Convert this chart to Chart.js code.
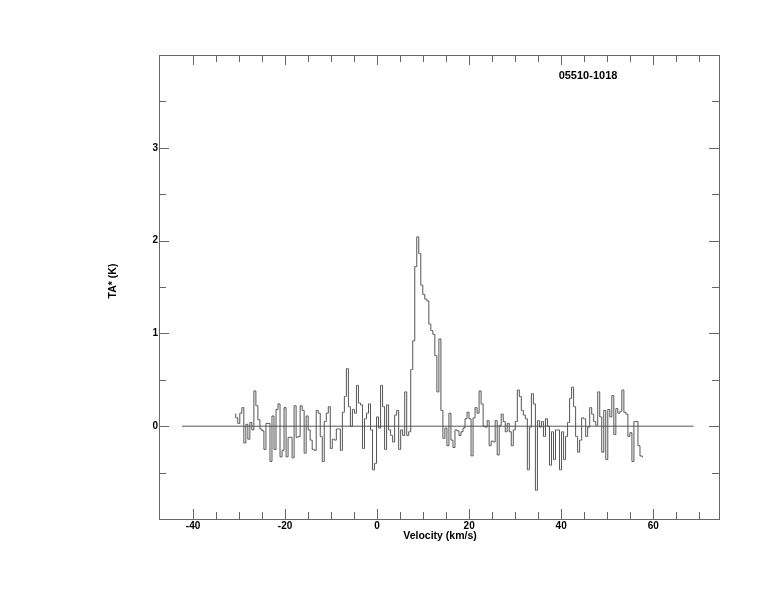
<!DOCTYPE html>
<html>
<head>
<meta charset="utf-8">
<script src="https://cdn.jsdelivr.net/npm/chart.js@4.4.1/dist/chart.umd.min.js"></script>
<style>
  html, body { margin:0; padding:0; background:#fff; }
  canvas { display:block; }
</style>
</head>
<body>
<canvas id="spec" width="774" height="612"></canvas>
<script>
// spectre 05510-1018 ------------------------------------------------------------
const sourceName = '05510-1018';
const xTitle = 'Velocity (km/s)';
const yTitle = 'TA* (K)';

// canaux : bord gauche du premier canal + largeur (km/s)
const velStart = -31.15;
const chanWidth = 0.437;

// TA* (K) par canal
const taValues = [
  0.13, 0.09, 0.03, 0.14, 0.20, -0.18, 0.02, -0.14, 0.04, -0.04,
  0.38, 0.22, 0.07, -0.03, -0.05, -0.25, 0.03, 0.03, -0.38, 0.11,
  -0.25, 0.18, 0.24, -0.33, -0.26, 0.20, -0.33, -0.12, -0.12, -0.34,
  0.22, -0.12, -0.11, 0.22, 0.17, -0.29, 0.11, -0.04, -0.15, -0.25,
  -0.26, 0.17, 0.14, -0.11, -0.38, 0.05, 0.14, 0.21, -0.24, -0.14,
  -0.15, -0.03, -0.03, -0.26, 0.15, 0.32, 0.62, 0.21, 0.00, 0.18,
  0.14, 0.44, 0.25, 0.23, -0.24, 0.08, 0.14, 0.24, -0.04, -0.47,
  -0.40, 0.10, -0.02, 0.44, 0.21, -0.25, 0.23, -0.04, -0.10, -0.17,
  0.12, 0.17, -0.25, -0.04, -0.10, 0.37, -0.10, -0.06, 0.61, 0.92,
  1.72, 2.04, 1.86, 1.52, 1.42, 1.37, 1.35, 1.10, 1.03, 0.99,
  0.76, 0.37, 0.94, 0.17, -0.13, -0.02, -0.21, 0.14, -0.15, -0.23,
  -0.04, -0.05, -0.10, -0.06, -0.02, 0.08, 0.15, 0.08, -0.32, 0.09,
  0.20, 0.14, 0.38, 0.24, 0.00, -0.01, 0.06, -0.21, -0.16, -0.17,
  0.06, -0.31, 0.01, 0.13, 0.05, -0.06, 0.03, -0.06, -0.21, -0.04,
  0.05, 0.39, 0.32, 0.17, 0.12, 0.08, -0.47, -0.01, 0.35, 0.24,
  -0.69, 0.06, -0.01, 0.05, -0.11, 0.08, 0.00, -0.42, -0.06, -0.36,
  -0.04, -0.04, -0.47, -0.06, -0.36, -0.11, 0.04, 0.30, 0.42, 0.21,
  -0.11, -0.28, -0.15, 0.09, 0.08, -0.11, -0.01, 0.20, 0.13, 0.05,
  0.01, 0.37, 0.10, -0.28, 0.17, -0.36, 0.18, 0.10, 0.33, -0.09,
  0.19, 0.14, 0.16, 0.39, 0.15, 0.13, -0.11, -0.07, -0.38, 0.05,
  0.05, -0.21, -0.32, -0.33
];

// ligne de base
const baseVel = [-42.4, 68.8];
const baseTa = [0, 0];

// axes
const xRange = [-47.4, 74.3];
const yRange = [-1, 4];
const xMajor = [-40, -20, 0, 20, 40, 60];
const xMinor = [-35, -30, -25, -15, -10, -5, 5, 10, 15, 25, 30, 35, 45, 50, 55, 65, 70];
const yMajor = [0, 1, 2, 3];
const yMinor = [-0.5, 0.5, 1.5, 2.5, 3.5];

const FAMILY = '"Liberation Sans", Arial, Helvetica, sans-serif';

const specPoints = taValues.map((t, i) => ({ x: velStart + (i + 0.5) * chanWidth, y: t }));
const basePoints = baseVel.map((v, i) => ({ x: v, y: baseTa[i] }));

// cadre, graduations internes et textes -----------------------------------------
const framePlugin = {
  id: 'frame',
  afterDraw(chart){
    const ctx = chart.ctx;
    const a = chart.chartArea;
    const sx = chart.scales.x, sy = chart.scales.y;
    ctx.save();
    ctx.strokeStyle = '#666';
    ctx.lineWidth = 1;
    ctx.strokeRect(a.left + 0.5, a.top + 0.5, a.right - a.left, a.bottom - a.top);

    const xTick = (v, len) => {
      const p = Math.round(sx.getPixelForValue(v)) + 0.5;
      ctx.beginPath();
      ctx.moveTo(p, a.bottom); ctx.lineTo(p, a.bottom - len);
      ctx.moveTo(p, a.top); ctx.lineTo(p, a.top + len);
      ctx.stroke();
    };
    const yTick = (v, len) => {
      const p = Math.round(sy.getPixelForValue(v)) + 0.5;
      ctx.beginPath();
      ctx.moveTo(a.left, p); ctx.lineTo(a.left + len, p);
      ctx.moveTo(a.right, p); ctx.lineTo(a.right - len, p);
      ctx.stroke();
    };
    xMajor.forEach(v => xTick(v, 10));
    xMinor.forEach(v => xTick(v, 7));
    yMajor.forEach(v => yTick(v, 10));
    yMinor.forEach(v => yTick(v, 7));

    ctx.fillStyle = '#000';
    ctx.font = 'bold 10px ' + FAMILY;
    ctx.textAlign = 'center';
    ctx.textBaseline = 'middle';
    xMajor.forEach(v => ctx.fillText(String(v), sx.getPixelForValue(v), a.bottom + 7));

    ctx.textAlign = 'right';
    yMajor.forEach(v => ctx.fillText(String(v), a.left - 1, sy.getPixelForValue(v)));

    ctx.font = 'bold 10.5px ' + FAMILY;
    ctx.textAlign = 'center';
    ctx.fillText(xTitle, (a.left + a.right) / 2 + 1, a.bottom + 17);

    ctx.save();
    ctx.translate(113, 281);
    ctx.rotate(-Math.PI / 2);
    ctx.fillText(yTitle, 0, 0);
    ctx.restore();

    ctx.font = 'bold 11px ' + FAMILY;
    ctx.fillText(sourceName, 588, 76);
    ctx.restore();
  }
};

new Chart(document.getElementById('spec'), {
  type: 'line',
  data: {
    datasets: [
      { data: specPoints, stepped: 'middle', borderColor: '#555', borderWidth: 1, pointRadius: 0, fill: false },
      { data: basePoints, borderColor: '#555', borderWidth: 1, pointRadius: 0, fill: false }
    ]
  },
  options: {
    responsive: false,
    devicePixelRatio: 1,
    animation: false,
    layout: { padding: { left: 159, right: 55, top: 55, bottom: 93 } },
    scales: {
      x: { type: 'linear', min: xRange[0], max: xRange[1], display: false },
      y: { type: 'linear', min: yRange[0], max: yRange[1], display: false }
    },
    plugins: { legend: { display: false }, tooltip: { enabled: false } }
  },
  plugins: [framePlugin]
});
</script>
</body>
</html>
